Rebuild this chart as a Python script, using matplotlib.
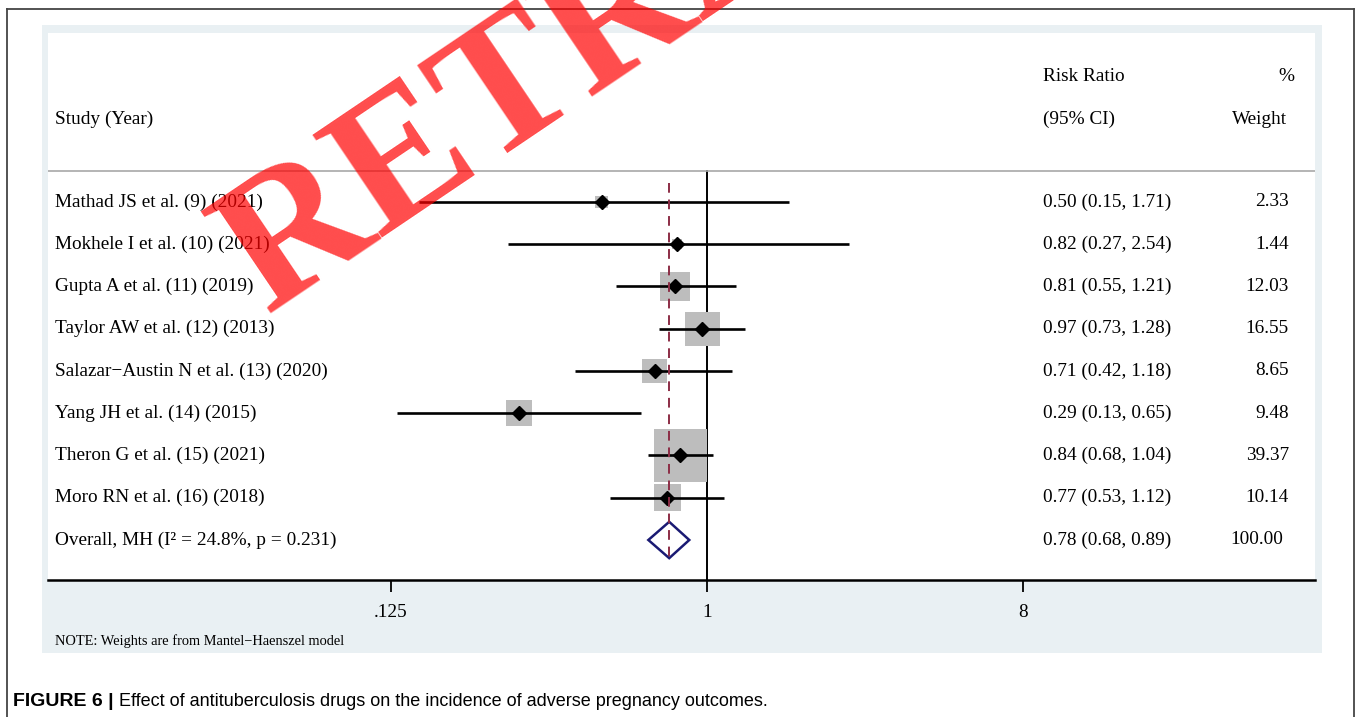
import numpy as np
import matplotlib
matplotlib.use('Agg')
import matplotlib.pyplot as plt
from matplotlib.patches import Rectangle
from matplotlib.lines import Line2D
import matplotlib.transforms as mtransforms

studies = ['Mathad JS et al. (9) (2021)',
           'Mokhele I et al. (10) (2021)',
           'Gupta A et al. (11) (2019)',
           'Taylor AW et al. (12) (2013)',
           'Salazar\u2212Austin N et al. (13) (2020)',
           'Yang JH et al. (14) (2015)',
           'Theron G et al. (15) (2021)',
           'Moro RN et al. (16) (2018)']
rr = [0.50, 0.82, 0.81, 0.97, 0.71, 0.29, 0.84, 0.77]
rr_lo = [0.15, 0.27, 0.55, 0.73, 0.42, 0.13, 0.68, 0.53]
rr_hi = [1.71, 2.54, 1.21, 1.28, 1.18, 0.65, 1.04, 1.12]
weights = [2.33, 1.44, 12.03, 16.55, 8.65, 9.48, 39.37, 10.14]

overall_label = 'Overall, MH (I\u00b2 = 24.8%, p = 0.231)'
overall_rr = 0.78
overall_lo = 0.68
overall_hi = 0.89
overall_weight = 100.00

xticks = [0.125, 1, 8]
xtick_labels = ['.125', '1', '8']


def main():
    W, H = 1357, 717
    fig = plt.figure(figsize=(W / 100, H / 100), dpi=100)
    plt.rcParams['font.family'] = ['Liberation Serif', 'DejaVu Serif']

    # outer frame (no bottom edge)
    fig.add_artist(Line2D([7 / W, 7 / W], [0, 1 - 9 / H], color='#444444', lw=1.3))
    fig.add_artist(Line2D([1354 / W, 1354 / W], [0, 1 - 9 / H], color='#444444', lw=1.3))
    fig.add_artist(Line2D([7 / W, 1354 / W], [1 - 9 / H, 1 - 9 / H], color='#444444', lw=1.3))

    # light panel behind the graph
    fig.add_artist(Rectangle((42 / W, 1 - 653 / H), (1322 - 42) / W, (653 - 25) / H,
                             facecolor='#e9f0f3', edgecolor='none', zorder=0))

    ax = fig.add_axes([48 / W, 1 - 580 / H, (1315 - 48) / W, (580 - 33) / H])
    ax.set_facecolor('white')
    ax.set_xscale('log', base=2)
    px_per_unit = 105.4
    ax.set_xlim(2 ** ((48 - 707) / px_per_unit), 2 ** ((1315 - 707) / px_per_unit))
    ax.set_ylim(8.947, -4.0)

    n = len(studies)
    ypos = np.arange(n)

    # weight squares
    ax.scatter(rr, ypos, s=[37 * w for w in weights], marker='s',
               color='#bdbdbd', edgecolors='none', zorder=2)
    # confidence intervals
    ax.hlines(ypos, rr_lo, rr_hi, color='black', lw=1.9, zorder=3)
    # point estimates
    ax.plot(rr, ypos, 'D', color='black', markersize=7, zorder=4)

    # null line and overall line
    ax.plot([1, 1], [-0.73, 8.947], color='black', lw=1.4, zorder=1)
    ax.plot([overall_rr, overall_rr], [-0.45, 8.43], color='#8c2d45', lw=1.4,
            dashes=(5, 3.5), zorder=5)

    # overall diamond
    yo = n
    h = 0.43
    ax.fill([overall_lo, overall_rr, overall_hi, overall_rr],
            [yo, yo - h, yo, yo + h], facecolor='white', edgecolor='#1a1a73',
            lw=1.8, zorder=4)

    # header separator
    ax.axhline(-0.734, color='#a8a8a8', lw=1.2)

    # text columns
    trans = mtransforms.blended_transform_factory(ax.transAxes, ax.transData)
    fs = 13.9
    ax.text(0.0055, -1.96, 'Study (Year)', transform=trans, fontsize=fs, va='center')
    ax.text(0.785, -2.96, 'Risk Ratio', transform=trans, fontsize=fs, va='center')
    ax.text(0.785, -1.96, '(95% CI)', transform=trans, fontsize=fs, va='center')
    ax.text(0.984, -2.96, '%', transform=trans, fontsize=fs, va='center', ha='right')
    ax.text(0.978, -1.96, 'Weight', transform=trans, fontsize=fs, va='center', ha='right')

    for i in range(n):
        ax.text(0.0055, i, studies[i], transform=trans, fontsize=fs, va='center')
        ax.text(0.785, i, '%.2f (%.2f, %.2f)' % (rr[i], rr_lo[i], rr_hi[i]),
                transform=trans, fontsize=fs, va='center')
        ax.text(0.9795, i, '%.2f' % weights[i], transform=trans, fontsize=fs,
                va='center', ha='right')
    ax.text(0.0055, yo, overall_label, transform=trans, fontsize=fs, va='center')
    ax.text(0.785, yo, '%.2f (%.2f, %.2f)' % (overall_rr, overall_lo, overall_hi),
            transform=trans, fontsize=fs, va='center')
    ax.text(0.975, yo, '%.2f' % overall_weight, transform=trans, fontsize=fs,
            va='center', ha='right')

    # axes styling
    for s in ['top', 'left', 'right']:
        ax.spines[s].set_visible(False)
    ax.spines['bottom'].set_linewidth(1.8)
    ax.set_yticks([])
    ax.set_xticks(xticks)
    ax.set_xticklabels(xtick_labels)
    ax.xaxis.set_minor_locator(matplotlib.ticker.NullLocator())
    ax.tick_params(axis='x', length=8.5, width=1.3, pad=9, labelsize=fs)

    fig.text(55 / W, 1 - 641 / H, 'NOTE: Weights are from Mantel\u2212Haenszel model',
             fontsize=10.4, va='center')

    # caption
    cap1 = fig.text(13 / W, 1 - 701 / H, 'FIGURE 6 |', fontsize=14, weight='bold',
                    family='Liberation Sans', va='center')
    fig.canvas.draw()
    bb = cap1.get_window_extent()
    fig.text((bb.x1 + 5) / W, 1 - 701 / H,
             'Effect of antituberculosis drugs on the incidence of adverse pregnancy outcomes.',
             fontsize=13, family='Liberation Sans', va='center')

    # retraction watermark
    fig.text(733 / W, 1 + 56 / H, 'RETRACTED', fontsize=136, weight='bold',
             color='red', alpha=0.7, rotation=34, ha='center', va='center',
             rotation_mode='anchor', zorder=10)

    fig.savefig('out.png', dpi=100)


if __name__ == '__main__':
    main()
